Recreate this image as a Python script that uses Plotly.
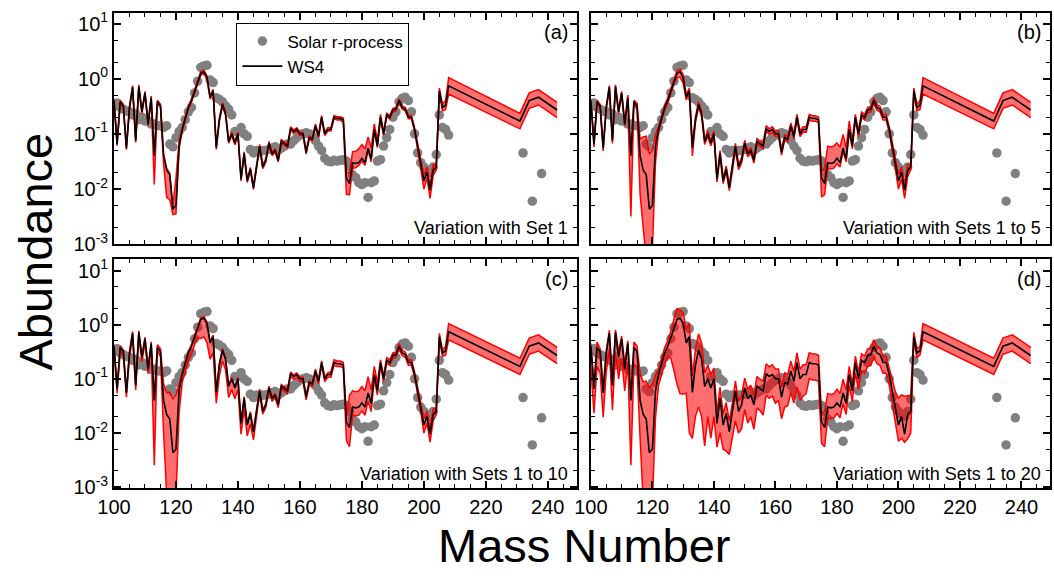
import numpy as np
import plotly.graph_objects as go

# ---------------------------------------------------------------- data
# Solar r-process abundances (grey dots)
A_solar = list(range(100, 209)) + [232, 235, 238]
solar = [
    0.33, 0.36, 0.30, 0.28, 0.26, 0.25, 0.22, 0.23, 0.18, 0.20,      # 100-109
    0.17, 0.17, 0.15, 0.15, 0.14, 0.14, 0.13, 0.14, 0.065, 0.058,    # 110-119
    0.085, 0.11, 0.13, 0.18, 0.25, 0.30, 0.55, 0.90, 1.60, 1.70,     # 120-129
    1.75, 0.95, 0.85, 0.45, 0.42, 0.38, 0.32, 0.28, 0.22, 0.11,      # 130-139
    0.11, 0.13, 0.10, 0.09, 0.052, 0.045, 0.05, 0.047, 0.05, 0.05,   # 140-149
    0.052, 0.055, 0.058, 0.05, 0.055, 0.06, 0.065, 0.065, 0.075, 0.085,  # 150-159
    0.095, 0.10, 0.105, 0.10, 0.09, 0.075, 0.06, 0.05, 0.036, 0.032,  # 160-169
    0.031, 0.033, 0.032, 0.033, 0.034, 0.032, 0.025, 0.018, 0.016, 0.013,  # 170-179
    0.012, 0.013, 0.007, 0.013, 0.014, 0.032, 0.034, 0.06, 0.085, 0.12,  # 180-189
    0.20, 0.25, 0.38, 0.44, 0.46, 0.40, 0.25, 0.10, 0.045, 0.03,     # 190-199
    0.025, 0.022, 0.02, 0.025, 0.042, 0.22, 0.13, 0.12, 0.095,       # 200-208
    0.045, 0.006, 0.019,                                             # 232, 235, 238
]

# WS4 abundance pattern (black line)
A_ws4 = list(range(100, 209)) + [231, 234, 237, 243]
ws4 = [
    0.40, 0.065, 0.38, 0.32, 0.055, 0.30, 0.70, 0.075, 0.72, 0.25,   # 100-109
    0.55, 0.15, 0.45, 0.04, 0.38, 0.32, 0.04, 0.022, 0.018, 0.0043,  # 110-119
    0.005, 0.06, 0.12, 0.20, 0.30, 0.40, 0.60, 0.90, 1.25, 1.33,     # 120-129
    1.05, 0.46, 0.60, 0.056, 0.18, 0.34, 0.23, 0.072, 0.10, 0.068,   # 130-139
    0.10, 0.015, 0.044, 0.014, 0.023, 0.0105, 0.023, 0.06, 0.025, 0.033,  # 140-149
    0.068, 0.043, 0.05, 0.033, 0.073, 0.065, 0.06, 0.125, 0.11, 0.12,  # 150-159
    0.10, 0.10, 0.046, 0.085, 0.08, 0.14, 0.09, 0.20, 0.10, 0.12,    # 160-169
    0.12, 0.20, 0.19, 0.19, 0.18, 0.016, 0.0125, 0.03, 0.029, 0.03,  # 170-179
    0.036, 0.03, 0.055, 0.035, 0.12, 0.06, 0.20, 0.10, 0.22, 0.20,   # 180-189
    0.27, 0.28, 0.40, 0.30, 0.28, 0.20, 0.20, 0.12, 0.06, 0.029,     # 190-199
    0.014, 0.02, 0.0095, 0.022, 0.025, 0.60, 0.30, 0.33, 0.74,       # 200-208
    0.17, 0.40, 0.46, 0.27,                                          # 231, 234, 237, 243
]

# Spread of the variations around WS4, in dex below (dn) and above (up)
dn_a = [
    .03, .03, .03, .03, .03, .03, .03, .03, .03, .03,
    .03, .03, .03, .52, .03, .03, .15, .50, .45, .10,
    .15, .05, .03, .03, .03, .03, .03, .03, .03, .03,
    .03, .03, .03, .03, .03, .03, .03, .03, .03, .03,
    .03, .03, .03, .03, .03, .03, .03, .03, .03, .03,
    .03, .03, .03, .03, .03, .03, .03, .03, .03, .03,
    .03, .03, .03, .03, .03, .03, .03, .03, .03, .03,
    .03, .03, .03, .03, .05, .30, .20, .10, .08, .05,
    .05, .05, .05, .05, .03, .03, .03, .03, .03, .03,
    .03, .03, .03, .03, .03, .03, .03, .03, .05, .10,
    .15, .10, .15, .10, .05, .05, .06, .08, .15,
    .14, .14, .14, .14,
]
up_a = [
    .03, .03, .03, .03, .03, .03, .03, .03, .03, .03,
    .03, .03, .03, .05, .03, .03, .03, .03, .03, .05,
    .50, .10, .03, .03, .03, .03, .03, .03, .03, .03,
    .03, .03, .03, .03, .03, .03, .03, .03, .03, .03,
    .03, .03, .03, .03, .03, .03, .03, .03, .03, .03,
    .03, .03, .03, .03, .03, .03, .03, .03, .03, .03,
    .03, .03, .03, .03, .03, .03, .03, .03, .03, .03,
    .03, .03, .03, .03, .03, .10, .20, .20, .22, .25,
    .25, .25, .20, .20, .10, .10, .05, .03, .03, .03,
    .03, .03, .03, .03, .03, .03, .03, .03, .03, .03,
    .10, .10, .10, .10, .05, .05, .06, .08, .15,
    .14, .14, .14, .14,
]
dn_b = [
    .03, .05, .03, .03, .05, .03, .03, .05, .03, .03,
    .03, .03, .08, 1.1, .05, .05, .70, 1.1, 1.55, 1.0,
    .80, .30, .05, .05, .05, .05, .05, .05, .08, .10,
    .10, .05, .05, .15, .05, .05, .05, .05, .05, .05,
    .05, .05, .05, .05, .05, .05, .05, .05, .05, .05,
    .05, .05, .05, .05, .05, .05, .05, .05, .05, .05,
    .05, .05, .05, .05, .05, .05, .05, .05, .05, .05,
    .05, .05, .05, .05, .05, .35, .20, .10, .10, .10,
    .10, .08, .06, .05, .05, .05, .05, .05, .05, .05,
    .05, .05, .05, .05, .05, .05, .05, .05, .05, .10,
    .15, .12, .15, .12, .05, .05, .06, .08, .15,
    .14, .14, .14, .14,
]
up_b = [
    .03, .03, .03, .03, .03, .03, .03, .03, .03, .03,
    .03, .03, .05, .05, .03, .05, .30, .60, .70, 1.0,
    1.0, .20, .05, .05, .05, .05, .05, .05, .05, .05,
    .05, .05, .05, .05, .05, .05, .05, .05, .05, .05,
    .05, .05, .05, .05, .05, .05, .05, .05, .05, .05,
    .05, .05, .05, .05, .05, .05, .05, .05, .05, .05,
    .05, .05, .05, .05, .05, .05, .05, .05, .05, .05,
    .05, .05, .05, .05, .05, .10, .30, .30, .30, .30,
    .28, .28, .25, .20, .15, .10, .05, .05, .05, .05,
    .05, .05, .05, .05, .05, .05, .05, .05, .05, .05,
    .12, .10, .12, .10, .05, .05, .06, .08, .15,
    .14, .14, .14, .14,
]
dn_c = [
    .08, .08, .08, .08, .08, .08, .08, .08, .08, .08,
    .08, .08, .08, 1.2, .05, .10, .60, 1.5, 1.5, 1.0,
    .90, .40, .15, .15, .15, .15, .15, .20, .35, .35,
    .35, .30, .30, .20, .20, .20, .20, .20, .20, .20,
    .20, .20, .20, .20, .20, .15, .10, .05, .05, .05,
    .05, .05, .05, .05, .05, .05, .05, .05, .05, .05,
    .05, .05, .05, .05, .05, .05, .05, .05, .05, .05,
    .05, .05, .05, .05, .05, .35, .35, .15, .15, .15,
    .15, .15, .15, .15, .08, .08, .05, .05, .05, .05,
    .05, .05, .05, .05, .05, .05, .05, .05, .05, .08,
    .15, .12, .15, .12, .06, .06, .06, .08, .15,
    .15, .15, .15, .15,
]
up_c = [
    .03, .03, .03, .03, .03, .03, .03, .03, .03, .03,
    .03, .03, .03, .05, .05, .05, .30, .40, .50, 1.0,
    1.0, .15, .03, .03, .03, .03, .03, .03, .03, .03,
    .03, .03, .03, .03, .03, .03, .03, .03, .03, .03,
    .03, .03, .03, .03, .03, .03, .03, .03, .03, .03,
    .03, .03, .03, .03, .03, .03, .03, .03, .03, .03,
    .03, .03, .03, .03, .03, .03, .03, .03, .03, .03,
    .05, .05, .05, .05, .05, .10, .60, .30, .30, .30,
    .30, .30, .30, .25, .15, .15, .05, .05, .05, .05,
    .05, .05, .05, .05, .05, .05, .05, .05, .05, .05,
    .12, .10, .12, .10, .06, .06, .06, .08, .15,
    .15, .15, .15, .15,
]
dn_d = [
    .40, .45, .35, .40, .45, .35, .30, .45, .35, .40,
    .35, .40, .35, 1.2, .30, .30, .70, 1.6, 1.6, 1.1,
    1.0, .50, .20, .20, .20, .20, .40, .80, 1.2, 1.4,
    1.3, .93, 1.78, .85, .95, 1.05, 1.06, 1.1, .70, .93,
    .70, .44, .64, .45, .70, .42, .46, .55, .40, .44,
    .40, .45, .40, .45, .40, .40, .45, .40, .40, .40,
    .45, .40, .40, .45, .40, .40, .40, .45, .40, .40,
    .35, .30, .30, .30, .30, .40, .35, .20, .20, .20,
    .20, .20, .20, .20, .20, .20, .20, .20, .20, .20,
    .20, .20, .20, .20, .20, .20, .20, .20, .25, .25,
    .30, .40, .15, .45, .40, .08, .08, .08, .15,
    .15, .15, .15, .15,
]
up_d = [
    .05, .10, .10, .05, .10, .05, .05, .10, .05, .10,
    .05, .10, .05, .10, .10, .10, .50, .60, .70, 1.2,
    1.2, .30, .10, .10, .10, .10, .10, .15, .20, .15,
    .20, .25, .25, .30, .30, .30, .30, .25, .25, .25,
    .20, .20, .20, .20, .20, .20, .18, .18, .18, .18,
    .18, .18, .18, .18, .18, .18, .18, .18, .18, .18,
    .18, .18, .18, .18, .18, .18, .18, .18, .18, .18,
    .18, .18, .18, .18, .18, .15, .30, .25, .25, .25,
    .25, .25, .25, .25, .15, .12, .12, .12, .12, .12,
    .12, .12, .12, .12, .12, .12, .12, .12, .20, .30,
    .50, .40, .70, .35, .30, .08, .08, .08, .15,
    .15, .15, .15, .15,
]

panel_tags = ["(a)", "(b)", "(c)", "(d)"]
panel_notes = ["Variation with Set 1", "Variation with Sets 1 to 5",
               "Variation with Sets 1 to 10", "Variation with Sets 1 to 20"]
x_ticks = [100, 120, 140, 160, 180, 200, 220, 240]
y_ticks = [1e-3, 1e-2, 1e-1, 1e0, 1e1]
y_ticktext = ["10<sup>-3</sup>", "10<sup>-2</sup>", "10<sup>-1</sup>",
              "10<sup>0</sup>", "10<sup>1</sup>"]
y_minor = [2e-3, 5e-3, 2e-2, 5e-2, 0.2, 0.5, 2, 5]

# ---------------------------------------------------------------- layout geometry (pixels)
W, H = 1054, 584
FONT = "Liberation Sans, Arial, sans-serif"
x_dom = [[98.6 / W, 568.8 / W], [583.3 / W, 1050 / W]]
y_dom = [[1 - 247 / H, 1 - 10 / H], [1 - 497 / H, 1 - 262 / H]]
y_rng = [[-3, 1.195], [-3.02, 1.22]]
x_rng = [100, 249.3]

fig = go.Figure()
A_w = np.array(A_ws4, dtype=float)
ws = np.array(ws4, dtype=float)
spreads = [(dn_a, up_a), (dn_b, up_b), (dn_c, up_c), (dn_d, up_d)]

for i, (dn, up) in enumerate(spreads):
    xa = "x" if i == 0 else f"x{i + 1}"
    ya = "y" if i == 0 else f"y{i + 1}"
    lower = ws * 10 ** (-np.array(dn))
    upper = ws * 10 ** np.array(up)

    fig.add_trace(go.Scatter(
        x=A_solar, y=solar, mode="markers", name="Solar r-process",
        marker=dict(color="#808080", size=9.5, line=dict(width=0)),
        showlegend=(i == 0), xaxis=xa, yaxis=ya))
    fig.add_trace(go.Scatter(
        x=np.concatenate([A_w, A_w[::-1]]),
        y=np.concatenate([upper, lower[::-1]]),
        mode="lines", fill="toself", fillcolor="rgba(255,0,0,0.57)",
        line=dict(width=0), hoverinfo="skip", showlegend=False,
        xaxis=xa, yaxis=ya))
    for edge in (lower, upper):
        fig.add_trace(go.Scatter(
            x=A_w, y=edge, mode="lines", line=dict(color="#ff0000", width=1.5),
            hoverinfo="skip", showlegend=False, xaxis=xa, yaxis=ya))
    fig.add_trace(go.Scatter(
        x=A_w, y=ws, mode="lines", name="WS4",
        line=dict(color="black", width=1.6),
        showlegend=(i == 0), xaxis=xa, yaxis=ya))

    col, row = i % 2, i // 2
    xkey = "xaxis" if i == 0 else f"xaxis{i + 1}"
    ykey = "yaxis" if i == 0 else f"yaxis{i + 1}"
    fig.layout[xkey] = dict(
        domain=x_dom[col], anchor=ya, range=x_rng,
        tickmode="array", tickvals=x_ticks, showticklabels=(row == 1),
        ticks="inside", ticklen=7, tickwidth=1.5, tickcolor="black",
        minor=dict(dtick=5, tick0=100, ticks="inside", ticklen=4,
                   tickwidth=1.2, tickcolor="black", showgrid=False),
        showline=True, linewidth=1.8, linecolor="black", mirror="allticks",
        showgrid=False, zeroline=False,
        tickfont=dict(family=FONT, size=20, color="black"))
    fig.layout[ykey] = dict(
        domain=y_dom[row], anchor=xa, type="log", range=y_rng[row],
        tickmode="array", tickvals=y_ticks, ticktext=y_ticktext,
        showticklabels=(col == 0),
        ticks="inside", ticklen=7, tickwidth=1.5, tickcolor="black",
        minor=dict(tickmode="array", tickvals=y_minor, ticks="inside",
                   ticklen=4, tickwidth=1.2, tickcolor="black", showgrid=False),
        showline=True, linewidth=1.8, linecolor="black", mirror="allticks",
        showgrid=False, zeroline=False,
        tickfont=dict(family=FONT, size=20, color="black"))

    dom_x = f"{xa} domain"
    dom_y = f"{ya} domain"
    fig.add_annotation(text=panel_tags[i], xref=dom_x, yref=dom_y,
                       x=0.985, y=0.915 if row == 0 else 0.91,
                       xanchor="right", yanchor="middle", showarrow=False,
                       font=dict(family=FONT, size=20, color="black"))
    fig.add_annotation(text=panel_notes[i], xref=dom_x, yref=dom_y,
                       x=0.985, y=0.07 if row == 0 else 0.06,
                       xanchor="right", yanchor="middle", showarrow=False,
                       font=dict(family=FONT, size=18, color="black"))

fig.add_annotation(text="Abundance", xref="paper", yref="paper",
                   x=19 / W, y=1 - 255 / H, textangle=-90,
                   xanchor="center", yanchor="middle", showarrow=False,
                   font=dict(family=FONT, size=47, color="black"))
fig.add_annotation(text="Mass Number", xref="paper", yref="paper",
                   x=577 / W, y=0, borderpad=0,
                   xanchor="center", yanchor="bottom", showarrow=False,
                   font=dict(family=FONT, size=47, color="black"))

fig.update_layout(
    width=W, height=H, margin=dict(l=0, r=0, t=0, b=0),
    paper_bgcolor="white", plot_bgcolor="white",
    font=dict(family=FONT, color="black"),
    showlegend=True,
    legend=dict(x=223 / W, y=1 - 20 / H, xanchor="left", yanchor="top",
                bgcolor="white", bordercolor="black", borderwidth=1,
                font=dict(family=FONT, size=17, color="black"),
                tracegroupgap=0, itemwidth=40),
)

fig.write_html("out.html")
